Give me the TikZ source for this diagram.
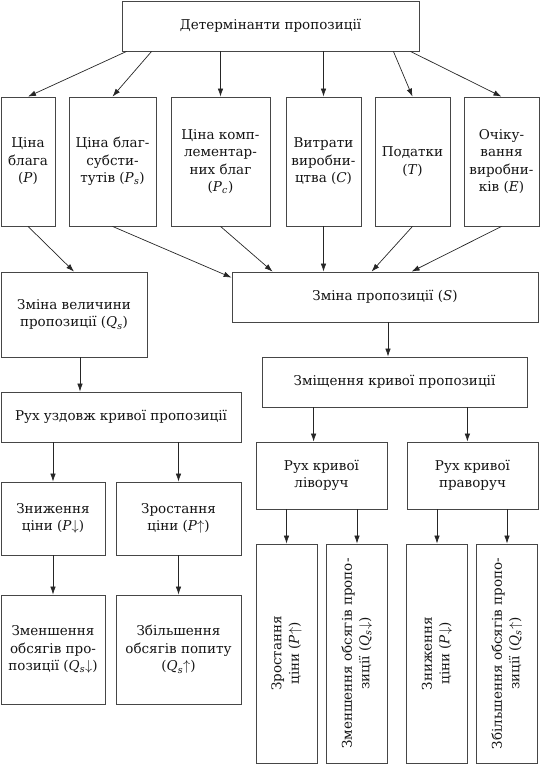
\documentclass[tikz,border=0pt]{standalone}
\usepackage{fontspec}
\setmainfont{DejaVu Serif}
\usetikzlibrary{arrows.meta, positioning}
\definecolor{lineGray}{RGB}{70,70,70}
\definecolor{textGray}{RGB}{20,20,20}
\newcommand{\upright}[1]{\rotatebox{90}{\begin{tabular}{@{}c@{}}#1\end{tabular}}}
\newcommand{\qty}[2]{\textit{#1}\textsubscript{\textit{#2}}}

\begin{document}
\begin{tikzpicture}[x=1pt, y=-1pt,
    box/.style={rectangle, draw=lineGray, line width=0.8pt, align=center, inner sep=1pt, text=textGray, font=\fontsize{13.5}{17.5}\selectfont},
    link/.style={-{Latex[length=8pt,width=5.5pt]}, line width=0.7pt, black!85}
]
\useasboundingbox (0,0) rectangle (540,770);

\node[box, minimum width=297, minimum height=50] (det) at (270.5,26) {Детермінанти пропозиції};

\node[box, minimum width=54, minimum height=129] (price) at (28,161.5) {Ціна\\блага\\(\textit{P})};
\node[box, minimum width=87, minimum height=129] (subst) at (112.5,161.5) {Ціна благ-\\субсти-\\тутів (\qty{P}{s})};
\node[box, minimum width=99, minimum height=129] (compl) at (220.5,161.5) {Ціна комп-\\лементар-\\них благ\\(\qty{P}{c})};
\node[box, minimum width=75, minimum height=129] (cost) at (323.5,161.5) {Витрати\\виробни-\\цтва (\textit{C})};
\node[box, minimum width=75, minimum height=129] (tax) at (412.5,161.5) {Податки\\(\textit{T})};
\node[box, minimum width=75, minimum height=129] (expect) at (501.5,161.5) {Очіку-\\вання\\виробни-\\ків (\textit{E})};

\node[box, minimum width=146, minimum height=85] (qchange) at (74,314.5) {Зміна величини\\пропозиції (\qty{Q}{s})};
\node[box, minimum width=306, minimum height=50] (schange) at (385,297) {Зміна пропозиції (\textit{S})};
\node[box, minimum width=265, minimum height=50] (shift) at (394.5,382) {Зміщення кривої пропозиції};
\node[box, minimum width=240, minimum height=50] (along) at (121,417) {Рух уздовж кривої пропозиції};

\node[box, minimum width=131, minimum height=67] (leftmove) at (321.5,475.5) {Рух кривої\\ліворуч};
\node[box, minimum width=131, minimum height=67] (rightmove) at (472.5,475.5) {Рух кривої\\праворуч};

\node[box, minimum width=104, minimum height=73] (pdown) at (53,518.5) {Зниження\\ціни (\textit{P}$\downarrow$)};
\node[box, minimum width=125, minimum height=73] (pup) at (178.5,518.5) {Зростання\\ціни (\textit{P}$\uparrow$)};
\node[box, minimum width=104, minimum height=109] (qdown) at (53,649.5) {Зменшення\\обсягів про-\\позиції (\qty{Q}{s}$\downarrow$)};
\node[box, minimum width=125, minimum height=109] (qup) at (178.5,649.5) {Збільшення\\обсягів попиту\\(\qty{Q}{s}$\uparrow$)};

\node[box, minimum width=61, minimum height=219] (lpup) at (286.5,653.5) {\upright{Зростання\\ціни (\textit{P}$\uparrow$)}};
\node[box, minimum width=61, minimum height=219] (lqdown) at (357,653.5) {\upright{Зменшення обсягів пропо-\\зиції (\qty{Q}{s}$\downarrow$)}};
\node[box, minimum width=61, minimum height=219] (rpdown) at (437,653.5) {\upright{Зниження\\ціни (\textit{P}$\downarrow$)}};
\node[box, minimum width=61, minimum height=219] (rqup) at (507,653.5) {\upright{Збільшення обсягів пропо-\\зиції (\qty{Q}{s}$\uparrow$)}};

\draw[link] ([xshift=5]det.south west) -- (price.north);
\draw[link] ([xshift=30]det.south west) -- (subst.north);
\draw[link] (det.south -| compl.north) -- (compl.north);
\draw[link] (det.south -| cost.north) -- (cost.north);
\draw[link] ([xshift=-26]det.south east) -- (tax.north);
\draw[link] ([xshift=-9]det.south east) -- (expect.north);

\draw[link] (price.south) -- (qchange.north);
\draw[link] (subst.south) -- ([yshift=-6]schange.north west);
\draw[link] (compl.south) -- ([xshift=41]schange.north west);
\draw[link] (cost.south) -- (cost.south |- schange.north);
\draw[link] (tax.south) -- ([xshift=140]schange.north west);
\draw[link] (expect.south) -- ([xshift=180]schange.north west);

\draw[link] ([xshift=3]schange.south) -- ([xshift=3]schange.south |- shift.north);
\draw[link] ([xshift=6]qchange.south) -- ([xshift=6]qchange.south |- along.north);

\draw[link] ([xshift=52]shift.south west) -- ([xshift=52]shift.south west |- leftmove.north);
\draw[link] ([xshift=-60]shift.south east) -- ([xshift=-60]shift.south east |- rightmove.north);

\draw[link] (along.south -| pdown.north) -- (pdown.north);
\draw[link] (along.south -| pup.north) -- (pup.north);
\draw[link] (pdown.south) -- (qdown.north);
\draw[link] (pup.south) -- (qup.north);

\draw[link] (leftmove.south -| lpup.north) -- (lpup.north);
\draw[link] (leftmove.south -| lqdown.north) -- (lqdown.north);
\draw[link] (rightmove.south -| rpdown.north) -- (rpdown.north);
\draw[link] (rightmove.south -| rqup.north) -- (rqup.north);
\end{tikzpicture}
\end{document}
